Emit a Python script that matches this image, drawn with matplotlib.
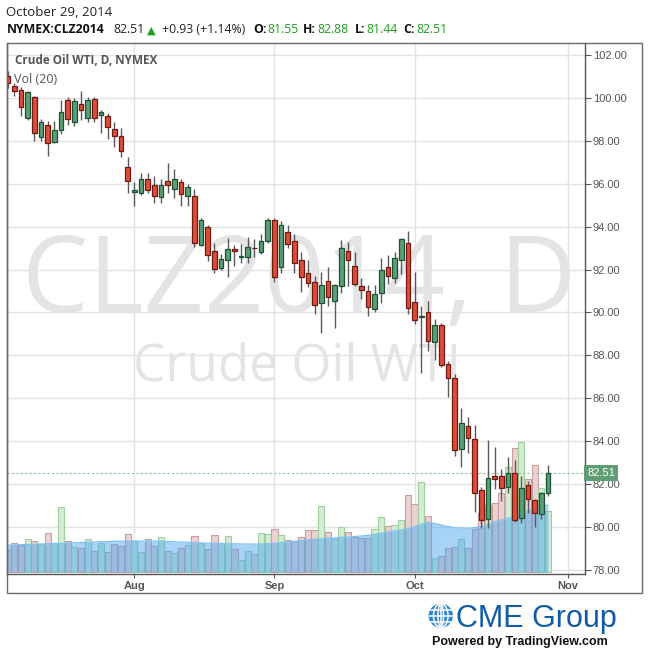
import numpy as np
import pandas as pd
import matplotlib
matplotlib.use("Agg")
import matplotlib.pyplot as plt
from matplotlib.patches import Rectangle, Circle, Ellipse
from matplotlib.transforms import blended_transform_factory

plt.rcParams['font.family'] = ['Open Sans', 'DejaVu Sans']

# daily OHLC, NYMEX:CLZ2014, 7 Jul - 29 Oct 2014
opens = [101.04, 100.58, 100.39, 99.09, 100.05, 98.17, 98.74, 97.94, 98.50, 99.91,
         98.88, 99.72, 99.06, 99.95, 99.20, 99.16, 98.55, 98.22, 96.80, 95.64,
         95.60, 96.21, 95.93, 95.41, 96.16, 95.78, 96.07, 95.46, 95.46, 93.16,
         94.00, 92.89, 92.07, 92.46, 92.97, 92.60, 92.58, 93.03, 92.82, 93.35,
         94.33, 92.10, 93.77, 93.35, 92.43, 91.85, 91.43, 90.44, 91.48, 90.54,
         91.24, 92.88, 92.18, 91.24, 91.01, 90.16, 90.91, 92.13, 91.62, 92.46,
         93.26, 90.49, 89.78, 90.00, 88.61, 89.40, 87.58, 86.93, 83.61, 84.69,
         84.08, 81.70, 80.35, 82.35, 82.35, 81.84, 82.49, 80.39, 81.93, 81.23,
         80.58, 81.55]
highs = [101.25, 100.70, 100.52, 100.36, 100.12, 99.02, 98.92, 98.92, 99.92, 100.05,
         100.01, 100.34, 100.05, 100.07, 99.45, 99.30, 98.88, 98.62, 97.28, 96.11,
         96.53, 96.53, 96.35, 96.25, 96.96, 96.72, 96.21, 96.02, 95.75, 94.39,
         94.07, 93.26, 92.71, 93.46, 93.16, 93.21, 93.54, 93.41, 93.68, 94.39,
         94.39, 94.25, 94.07, 93.68, 92.80, 92.43, 91.71, 91.89, 92.13, 91.33,
         93.36, 93.30, 92.83, 91.62, 91.29, 91.29, 92.53, 92.69, 92.83, 93.49,
         93.79, 91.90, 90.30, 90.52, 89.68, 89.50, 87.72, 87.11, 85.53, 85.11,
         84.73, 81.85, 84.03, 83.71, 82.68, 83.24, 83.10, 82.35, 82.12, 81.28,
         81.61, 82.88]
lows = [100.50, 100.11, 99.19, 98.98, 98.01, 98.01, 97.31, 97.89, 98.33, 98.74,
        98.70, 98.98, 98.88, 98.88, 98.36, 98.11, 97.73, 97.28, 95.60, 94.99,
        95.47, 95.60, 95.13, 95.13, 95.60, 95.36, 94.99, 94.99, 93.05, 93.10,
        92.42, 91.86, 92.00, 91.64, 92.19, 92.33, 92.33, 92.58, 92.71, 93.26,
        91.44, 91.86, 92.99, 91.86, 90.94, 91.18, 89.91, 89.06, 90.30, 89.26,
        90.89, 91.24, 91.24, 90.61, 89.82, 90.01, 90.45, 91.33, 91.38, 91.80,
        89.91, 89.44, 87.19, 88.22, 87.79, 87.45, 86.04, 83.31, 82.80, 83.43,
        80.67, 79.93, 79.93, 81.75, 81.19, 81.56, 80.21, 80.16, 80.63, 80.00,
        80.35, 81.44]
closes = [100.73, 100.36, 99.58, 100.28, 98.36, 98.88, 97.89, 98.50, 99.34, 99.02,
          99.86, 99.44, 99.91, 99.06, 99.34, 98.64, 98.22, 97.53, 96.16, 95.74,
          96.25, 95.74, 95.46, 95.93, 95.97, 96.25, 95.55, 95.88, 93.26, 94.33,
          92.69, 92.04, 92.51, 92.97, 92.88, 92.63, 93.07, 93.00, 93.32, 94.33,
          91.64, 94.10, 93.19, 92.30, 91.64, 91.38, 90.35, 91.29, 90.73, 91.29,
          93.02, 92.46, 91.33, 91.05, 90.26, 90.87, 91.99, 91.71, 92.55, 93.44,
          90.21, 89.65, 89.84, 88.66, 89.40, 87.53, 86.93, 83.57, 84.83, 84.13,
          81.56, 80.30, 82.26, 82.21, 81.79, 82.49, 80.30, 81.79, 81.28, 80.63,
          81.56, 82.51]
# volume (thousand contracts) and its 20-day average
vol = [22, 28.7, 27, 32.7, 30.7, 27.7, 38.7, 28.7, 64.7, 30.7,
       24.7, 23.7, 32.7, 20.7, 29, 20, 28, 25.7, 37.7, 30.7,
       19.7, 32.7, 25.7, 34.7, 20.7, 18.7, 23.7, 26.7, 35.7, 28.7,
       22.7, 37, 28.7, 35.7, 22.7, 11.7, 20.7, 17.7, 38.7, 37.7,
       42.7, 36.7, 31.7, 30.7, 34.7, 41.7, 41.7, 66, 39.7, 32.7,
       44.7, 39.7, 34.7, 33.7, 33.7, 42.7, 54.7, 45.7, 46.7, 51.7,
       77, 68, 89.7, 56, 13.7, 15.7, 23.7, 24.7, 32.7, 23.7,
       43, 58.7, 66.7, 69, 78.7, 105, 123.7, 129.7, 92.7, 107,
       83.7, 61]
vol_ma = [27, 27, 27.3, 27.5, 27.7, 28, 28.2, 28.5, 28.7, 28.9,
          29.2, 29.5, 29.8, 30, 30.3, 30.5, 30.7, 30.9, 31, 31,
          31, 31, 31, 30.8, 30.5, 30.2, 30, 29.7, 29.3, 29,
          28.8, 28.6, 28.5, 28.3, 28.2, 28, 28, 28, 28, 28.3,
          28.7, 29.3, 30, 30.7, 31.5, 32.2, 32.7, 33.2, 33.7, 34.2,
          34.7, 35, 35.5, 36, 36.7, 37.5, 38.7, 39.8, 41, 42,
          43.5, 45.3, 47.5, 49.7, 48.5, 47, 45.5, 44.3, 44, 43.7,
          44.5, 45.3, 47.5, 50.3, 52, 53.7, 56, 58.7, 61, 63.7,
          65.5, 67]
price_ticks = [78, 80, 82, 84, 86, 88, 90, 92, 94, 96, 98, 100, 102]

# trading days (Labor Day closed), run on to Nov 3 for the month ticks
days = pd.bdate_range('2014-07-07', '2014-11-03')
days = days[days != pd.Timestamp('2014-09-01')]
month_pos = [i for i in range(1, len(days)) if days[i].month != days[i - 1].month]
month_lab = [days[i].strftime('%b') for i in month_pos]

opens, highs, lows, closes = map(np.array, (opens, highs, lows, closes))
x = np.arange(len(closes))
up = closes >= opens

W, H = 650, 652
fig = plt.figure(figsize=(6.5, 6.52), dpi=100)

def fx(px):
    return px / W

def fy(py):
    return 1 - py / H

L, R, T, B = 7, 585, 43, 574
rect = [fx(L), fy(B), fx(R) - fx(L), fy(T) - fy(B)]
xlim = (-0.1, 86.55)
ylim = (77.79, 102.58)

# background: grid + watermark
ax_bg = fig.add_axes(rect)
ax_bg.set_xlim(xlim)
ax_bg.set_ylim(ylim)
for p in price_ticks:
    ax_bg.axhline(p, color='#e3e3e3', lw=1)
for m in month_pos:
    ax_bg.axvline(m, color='#e3e3e3', lw=1)
ax_bg.text(0.505, 0.4934, 'CLZ2014, D', transform=ax_bg.transAxes, ha='center', va='baseline',
           fontsize=76, color='#e4e4e4')
ax_bg.text(0.502, 0.3653, 'Crude Oil WTI', transform=ax_bg.transAxes, ha='center', va='baseline',
           fontsize=37, color='#e4e4e4')
ax_bg.axis('off')

# volume
ax_vol = fig.add_axes(rect)
ax_vol.patch.set_alpha(0)
ax_vol.set_xlim(xlim)
ax_vol.set_ylim(-2, 529)
ax_vol.bar(x, vol, width=0.92, color=np.where(up, '#d4ebd4', '#ebd2d2'),
           edgecolor=np.where(up, '#9fcf9f', '#c99e9e'), lw=0.8)
ax_vol.fill_between(x, 0, vol_ma, color='#4ea8ee', alpha=0.5, lw=0)
ax_vol.plot(x, vol_ma, color='#7fc2f2', lw=0.9)
ax_vol.axis('off')

# candles
ax = fig.add_axes(rect)
ax.patch.set_alpha(0)
ax.set_xlim(xlim)
ax.set_ylim(ylim)
ax.vlines(x, lows, highs, color='#5a5a5a', lw=1, zorder=2)
ax.bar(x, closes - opens, bottom=opens, width=0.7,
       color=np.where(up, '#5c9e76', '#dc4e3a'),
       edgecolor=np.where(up, '#1d5232', '#6e1a10'), lw=0.9, zorder=3)

last = closes[-1]
ax.axhline(last, color='#86c49b', lw=0.8, ls=(0, (2, 2)), zorder=1)
bt = blended_transform_factory(ax.transAxes, ax.transData)
ax.text(1.004, last, '%.2f' % last, transform=bt, ha='left', va='center', color='white',
        fontsize=8, family='Liberation Sans', zorder=10, clip_on=False,
        bbox=dict(boxstyle='square,pad=0.28', fc='#5e9e72', ec='none'))

ax.yaxis.tick_right()
ax.set_yticks(price_ticks)
ax.set_yticklabels(['%.2f' % p for p in price_ticks])
ax.set_xticks(month_pos)
ax.set_xticklabels(month_lab)
ax.tick_params(axis='y', direction='out', length=4, width=0.8, color='#555555',
               labelcolor='#555555', labelsize=8, pad=1.5)
ax.tick_params(axis='x', direction='out', length=3, width=0.8, color='#555555',
               labelcolor='#555555', labelsize=8, pad=2)
for lbl in ax.get_yticklabels():
    lbl.set_family('Liberation Sans')
for lbl in ax.get_xticklabels():
    lbl.set_family('Liberation Sans')
    lbl.set_fontweight('bold')
for s in ['left', 'bottom', 'right']:
    ax.spines[s].set_color('#555555')
    ax.spines[s].set_linewidth(1)
ax.spines['top'].set_visible(False)

# outer frame
fig.add_artist(Rectangle((fx(7), fy(593)), fx(642) - fx(7), fy(43) - fy(593),
                         transform=fig.transFigure, fill=False, ec='#6a6a6a', lw=1))

# header
def htext(px, py, s, **kw):
    fig.text(fx(px), fy(py), s, ha='left', va='baseline', **kw)

green = '#1f9e1f'
htext(6, 16.5, 'October 29, 2014', fontsize=9.5, color='#222222')
htext(7, 33.3, 'NYMEX:CLZ2014', fontsize=8.8, fontweight='bold', color='#111111')
htext(113, 33.3, '82.51', fontsize=8.8, color='#222222')
htext(147, 33.3, '\u25b2', fontsize=8, color=green, family='DejaVu Sans')
htext(162, 33.3, '+0.93 (+1.14%)', fontsize=8.8, color='#222222')
for px, vx, lab, val in [(253, 267, 'O:', '81.55'), (303, 317, 'H:', '82.88'),
                         (355, 366, 'L:', '81.44'), (403, 416, 'C:', '82.51')]:
    htext(px, 33.3, lab, fontsize=8.8, fontweight='bold', color='#111111')
    htext(vx, 33.3, val, fontsize=8.8, color=green)

htext(15, 64.5, 'Crude Oil WTI, D, NYMEX', fontsize=8.5, fontweight='bold', color='#555555')
htext(14, 83, 'Vol (20)', fontsize=9, color='#555555')

# logo
ax_logo = fig.add_axes([fx(428), fy(628.5), fx(25.5), fx(25.5)])
ax_logo.set_xlim(-1.05, 1.05)
ax_logo.set_ylim(-1.05, 1.05)
ax_logo.set_aspect('equal')
ax_logo.axis('off')
globe = Circle((0, 0), 1, fc='#2a86d1', ec='none')
ax_logo.add_patch(globe)
for w in [0.45, 1.2]:
    e = Ellipse((0, 0), w, 2, fill=False, ec='white', lw=1.1)
    ax_logo.add_patch(e)
    e.set_clip_path(globe)
for yy in [-0.5, 0, 0.5]:
    ln, = ax_logo.plot([-1, 1], [yy, yy], color='white', lw=1.1)
    ln.set_clip_path(globe)
ln, = ax_logo.plot([0, 0], [-1, 1], color='white', lw=1.1)
ln.set_clip_path(globe)

htext(456, 627.5, 'CME Group', fontsize=22, color='#0f5ba6', family='Liberation Sans')
htext(432, 644.5, 'Powered by TradingView.com', fontsize=9, fontweight='bold',
      color='#111111', family='Liberation Sans')

fig.savefig('out.png', dpi=100)
